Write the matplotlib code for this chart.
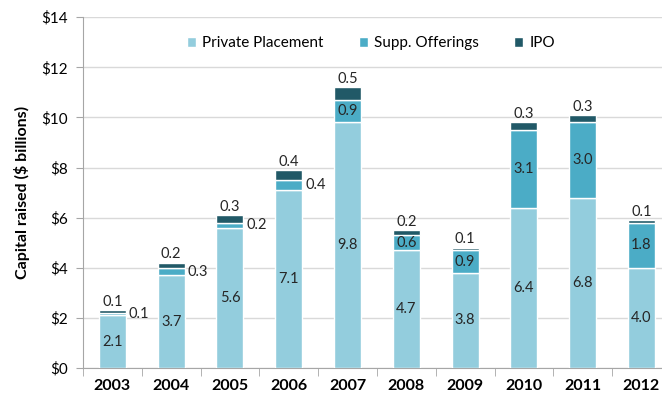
import matplotlib
matplotlib.use("Agg")
import matplotlib.pyplot as plt
import numpy as np

plt.rcParams['font.family'] = ['Lato', 'DejaVu Sans']

years = ['2003', '2004', '2005', '2006', '2007', '2008', '2009', '2010', '2011', '2012']
private = [2.1, 3.7, 5.6, 7.1, 9.8, 4.7, 3.8, 6.4, 6.8, 4.0]
supp = [0.1, 0.3, 0.2, 0.4, 0.9, 0.6, 0.9, 3.1, 3.0, 1.8]
ipo = [0.1, 0.2, 0.3, 0.4, 0.5, 0.2, 0.1, 0.3, 0.3, 0.1]

c_private = '#93CDDD'
c_supp = '#4BACC6'
c_ipo = '#215967'
txt = '#262626'

fig = plt.figure(figsize=(6.62, 4.07), dpi=100)
# axes run a little past the right edge, as in the reference
ax = fig.add_axes([0.1254, 0.0958, 0.888, 0.862])

x = np.arange(len(years))
w = 0.46
private = np.array(private)
supp = np.array(supp)
ipo = np.array(ipo)

ax.bar(x, private, w, color=c_private, edgecolor='white', linewidth=1, label='Private Placement', zorder=3)
ax.bar(x, supp, w, bottom=private, color=c_supp, edgecolor='white', linewidth=1, label='Supp. Offerings', zorder=3)
ax.bar(x, ipo, w, bottom=private + supp, color=c_ipo, edgecolor='white', linewidth=1, label='IPO', zorder=3)

# labels
for i in range(len(years)):
    ax.text(x[i], private[i] / 2, f'{private[i]:.1f}', ha='center', va='center', fontsize=10.5, color=txt, zorder=4)
    mid = private[i] + supp[i] / 2
    if supp[i] >= 0.6:
        ax.text(x[i], mid, f'{supp[i]:.1f}', ha='center', va='center', fontsize=10.5, color=txt, zorder=4)
    else:
        ax.text(x[i] + w / 2 + 0.05, mid, f'{supp[i]:.1f}', ha='left', va='center', fontsize=10.5, color=txt, zorder=4)
    top = private[i] + supp[i] + ipo[i]
    ax.annotate(f'{ipo[i]:.1f}', (x[i], top), xytext=(0, 1), textcoords='offset points',
                ha='center', va='bottom', fontsize=10.5, color=txt, zorder=4)

ax.set_xlim(-0.5, 9.5)
ax.set_ylim(0, 14)
ax.set_yticks(range(0, 15, 2))
ax.set_yticklabels([f'${v}' for v in range(0, 15, 2)], fontsize=11)
ax.set_xticks(x)
ax.set_xticklabels(years, fontsize=11.5, fontweight='bold')
ax.set_xticks(np.arange(-0.5, 10, 1), minor=True)
ax.tick_params(axis='x', which='major', length=0, pad=8)
ax.tick_params(axis='x', which='minor', length=6, color='#A6A6A6')
ax.tick_params(axis='y', length=5, color='#A6A6A6', pad=6)

ax.grid(axis='y', color='#D9D9D9', linewidth=1, zorder=0)
ax.set_axisbelow(True)
for s in ['top', 'right']:
    ax.spines[s].set_visible(False)
ax.spines['left'].set_color('#A6A6A6')
ax.spines['bottom'].set_color('#A6A6A6')

ax.set_ylabel('Capital raised ($ billions)', fontsize=11.5, fontweight='bold', labelpad=8)

ax.legend(loc='upper center', bbox_to_anchor=(0.49, 0.985), ncol=3, frameon=False, fontsize=11,
          handlelength=0.6, handleheight=0.6, handletextpad=0.4, columnspacing=2.3)

fig.savefig('out.png', dpi=100)
